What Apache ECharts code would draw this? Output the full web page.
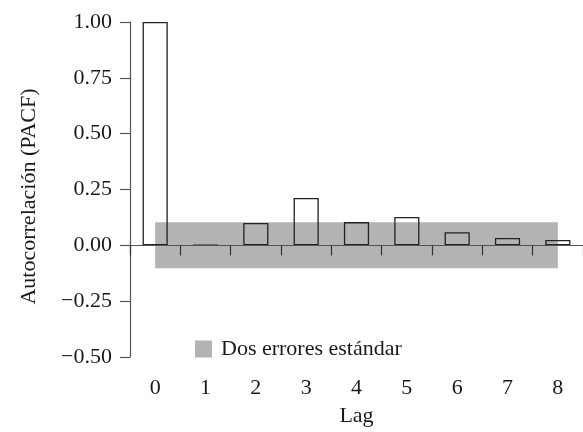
<!DOCTYPE html>
<html><head><meta charset="utf-8">
<script src="https://cdn.jsdelivr.net/npm/echarts@6/dist/echarts.min.js"></script>
<style>html,body{margin:0;padding:0;background:#fff}#c{width:583px;height:432px}</style>
</head><body><div id="c"></div>
<script>
const lags = ['0', '1', '2', '3', '4', '5', '6', '7', '8'];
const pacf = [1.00, 0.002, 0.100, 0.212, 0.104, 0.127, 0.059, 0.033, 0.024];
const bandLow = -0.103;
const bandHigh = 0.103;
const yMin = -0.5, yMax = 1.0, yStep = 0.25;
const bandName = 'Dos errores estándar';
const yName = 'Autocorrelación (PACF)';
const xName = 'Lag';

const FONT = "'Liberation Serif', 'Times New Roman', serif";
const TXT = '#1a1a1a';
const AX = '#555';
const chart = echarts.init(document.getElementById('c'), null, {renderer: 'canvas'});
chart.setOption({
  animation: false,
  backgroundColor: '#fff',
  textStyle: {fontFamily: FONT, color: TXT},
  grid: {left: 130, top: 22, width: 455, height: 340, containLabel: false},
  legend: {
    left: 190, top: 333, padding: 5, itemWidth: 17, itemHeight: 17,
    textStyle: {fontFamily: FONT, fontSize: 22, color: TXT, padding: [0, 0, 0, 4]},
    data: [{name: bandName, icon: 'rect', itemStyle: {color: '#b3b3b3', borderWidth: 0}}],
    selectedMode: false
  },
  xAxis: [{
    type: 'category', data: lags, position: 'top', z: 10,
    axisLine: {show: true, onZero: true, lineStyle: {color: AX, width: 1.2}},
    axisTick: {show: true, inside: true, length: 10, lineStyle: {color: '#333', width: 1.2}},
    axisLabel: {show: false}, splitLine: {show: false}
  }, {
    type: 'category', data: lags, position: 'bottom',
    axisLine: {show: false, onZero: false}, axisTick: {show: false},
    axisLabel: {show: true, margin: 20, fontFamily: FONT, fontSize: 22, color: TXT},
    name: xName, nameLocation: 'middle', nameGap: 48,
    nameTextStyle: {fontFamily: FONT, fontSize: 22, color: TXT},
    splitLine: {show: false}
  }],
  yAxis: {
    type: 'value', min: yMin, max: yMax, interval: yStep,
    axisLine: {show: true, onZero: false, lineStyle: {color: AX, width: 1.2}},
    axisTick: {show: true, length: 10, lineStyle: {color: AX, width: 1.2}},
    axisLabel: {margin: 18, fontFamily: FONT, fontSize: 22, color: TXT,
      formatter: v => (v < 0 ? '\u2212' + Math.abs(v).toFixed(2) : v.toFixed(2))},
    splitLine: {show: false},
    name: yName, nameLocation: 'middle', nameGap: 90, nameRotate: 90,
    nameTextStyle: {fontFamily: FONT, fontSize: 22, color: TXT, padding: [0, 14, 0, 0]}
  },
  series: [{
    name: bandName, type: 'line', data: [], z: 1, color: '#b3b3b3',
    markArea: {silent: true, itemStyle: {color: '#b3b3b3'},
      data: [[{xAxis: 0, yAxis: bandLow}, {xAxis: 8, yAxis: bandHigh}]]}
  }, {
    name: 'PACF', type: 'bar', data: pacf, barWidth: '50%', z: 3,
    itemStyle: {color: 'rgba(0,0,0,0)', borderColor: '#222', borderWidth: 1.3}
  }]
});
</script></body></html>
